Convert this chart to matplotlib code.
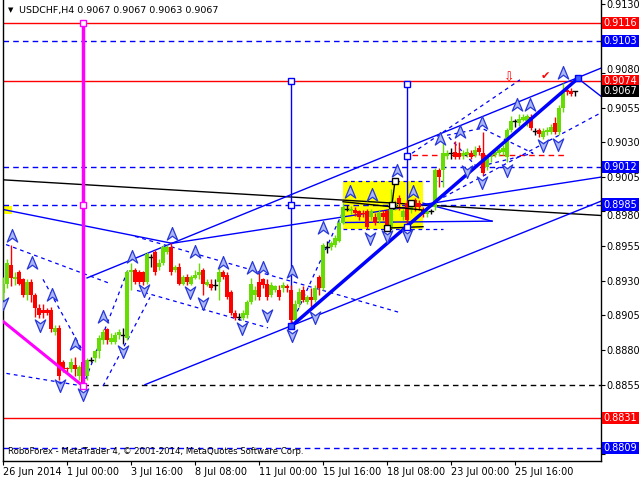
import matplotlib
matplotlib.use('Agg')
import matplotlib.pyplot as plt
from matplotlib.patches import Rectangle
from matplotlib.path import Path
from matplotlib.transforms import blended_transform_factory, ScaledTranslation
import numpy as np

# ---------------- data ----------------
opens = [0.8921,0.8928,0.8941,0.8931,0.8936,0.8931,0.8920,0.8929,0.8920,0.8910,
         0.8909,0.8909,0.8909,0.8893,0.8896,0.8871,0.8867,0.8866,0.8869,0.8861,
         0.8871,0.8861,0.8873,0.8874,0.8879,0.8887,0.8895,0.8886,0.8886,0.8891,
         0.8891,0.8889,0.8936,0.8938,0.8936,0.8936,0.8929,0.8947,0.8951,0.8940,
         0.8943,0.8951,0.8954,0.8938,0.8940,0.8928,0.8933,0.8928,0.8932,0.8934,
         0.8938,0.8927,0.8928,0.8927,0.8929,0.8936,0.8934,0.8922,0.8907,0.8904,
         0.8903,0.8905,0.8915,0.8920,0.8929,0.8931,0.8928,0.8920,0.8923,0.8923,
         0.8925,0.8926,0.8923,0.8902,0.8913,0.8923,0.8915,0.8918,0.8916,0.8933,
         0.8925,0.8954,0.8954,0.8956,0.8959,0.8972,0.8982,0.8980,0.8981,0.8980,
         0.8979,0.8980,0.8976,0.8976,0.8974,0.8979,0.8980,0.8969,0.8983,0.8990,
         0.8976,0.8986,0.8981,0.8988,0.8986,0.8981,0.8978,0.8980,0.8983,0.9010,
         0.9010,0.9020,0.9022,0.9023,0.9022,0.9020,0.9021,0.9022,0.9021,0.9026,
         0.9022,0.9012,0.9019,0.9021,0.9022,0.9023,0.9019,0.9039,0.9045,0.9044,
         0.9046,0.9045,0.9048,0.9038,0.9039,0.9034,0.9037,0.9037,0.9044,0.9037,
         0.9055,0.9068,0.9067,0.9067]
highs = [0.8933,0.8946,0.8956,0.8936,0.8938,0.8932,0.8931,0.8931,0.8921,0.8913,
         0.8913,0.8910,0.8911,0.8898,0.8898,0.8873,0.8868,0.8874,0.8875,0.8869,
         0.8873,0.8874,0.8875,0.8880,0.8891,0.8895,0.8896,0.8892,0.8893,0.8895,
         0.8896,0.8938,0.8943,0.8939,0.8938,0.8937,0.8951,0.8949,0.8952,0.8946,
         0.8956,0.8956,0.8957,0.8941,0.8943,0.8934,0.8935,0.8934,0.8938,0.8943,
         0.8939,0.8931,0.8931,0.8931,0.8939,0.8938,0.8936,0.8923,0.8909,0.8907,
         0.8909,0.8916,0.8932,0.8926,0.8938,0.8932,0.8931,0.8929,0.8927,0.8927,
         0.8929,0.8928,0.8927,0.8916,0.8925,0.8926,0.8920,0.8925,0.8927,0.8934,
         0.8957,0.8959,0.8959,0.8963,0.8974,0.8986,0.8985,0.8984,0.8983,0.8981,
         0.8981,0.8982,0.8982,0.8979,0.8981,0.8981,0.8982,0.8996,0.8988,0.8992,
         0.8982,0.8988,0.8985,0.8990,0.8988,0.8983,0.8982,0.8982,0.9011,0.9011,
         0.9031,0.9024,0.9026,0.9031,0.9030,0.9024,0.9026,0.9024,0.9027,0.9028,
         0.9037,0.9021,0.9023,0.9024,0.9026,0.9028,0.9040,0.9049,0.9047,0.9050,
         0.9050,0.9050,0.9050,0.9040,0.9040,0.9040,0.9041,0.9043,0.9048,0.9057,
         0.9073,0.9070,0.9069,0.9067]
lows = [0.8916,0.8925,0.8926,0.8927,0.8927,0.8918,0.8916,0.8915,0.8904,0.8903,
        0.8903,0.8905,0.8893,0.8891,0.8858,0.8864,0.8864,0.8864,0.8861,0.8858,
        0.8853,0.8858,0.8871,0.8871,0.8874,0.8884,0.8884,0.8884,0.8884,0.8888,
        0.8884,0.8887,0.8923,0.8928,0.8928,0.8927,0.8928,0.8940,0.8934,0.8938,
        0.8941,0.8949,0.8934,0.8936,0.8927,0.8927,0.8927,0.8927,0.8931,0.8931,
        0.8920,0.8926,0.8923,0.8923,0.8916,0.8931,0.8917,0.8905,0.8902,0.8902,
        0.8902,0.8903,0.8913,0.8916,0.8916,0.8925,0.8916,0.8918,0.8922,0.8916,
        0.8922,0.8922,0.8898,0.8900,0.8911,0.8915,0.8913,0.8911,0.8915,0.8920,
        0.8923,0.8950,0.8952,0.8954,0.8958,0.8971,0.8980,0.8978,0.8977,0.8974,
        0.8976,0.8967,0.8974,0.8970,0.8972,0.8974,0.8967,0.8968,0.8981,0.8981,
        0.8974,0.8972,0.8979,0.8980,0.8981,0.8976,0.8976,0.8978,0.8981,0.8998,
        0.8998,0.9018,0.9018,0.9018,0.9018,0.9018,0.9019,0.9018,0.9019,0.9021,
        0.9006,0.9010,0.9016,0.9019,0.9020,0.9021,0.9016,0.9037,0.9041,0.9042,
        0.9045,0.9042,0.9039,0.9035,0.9034,0.9032,0.9035,0.9036,0.9036,0.9035,
        0.9052,0.9064,0.9063,0.9063]
closes = [0.8928,0.8943,0.8932,0.8933,0.8928,0.8920,0.8929,0.8920,0.8910,0.8905,
          0.8907,0.8907,0.8895,0.8896,0.8861,0.8866,0.8866,0.8871,0.8866,0.8868,
          0.8855,0.8873,0.8873,0.8879,0.8889,0.8893,0.8887,0.8889,0.8891,0.8893,
          0.8891,0.8936,0.8938,0.8929,0.8929,0.8929,0.8949,0.8947,0.8936,0.8943,
          0.8954,0.8954,0.8936,0.8940,0.8928,0.8933,0.8929,0.8933,0.8934,0.8936,
          0.8928,0.8929,0.8925,0.8927,0.8936,0.8933,0.8918,0.8907,0.8903,0.8904,
          0.8907,0.8915,0.8928,0.8923,0.8918,0.8927,0.8918,0.8927,0.8926,0.8918,
          0.8927,0.8925,0.8902,0.8913,0.8922,0.8916,0.8918,0.8916,0.8925,0.8925,
          0.8956,0.8954,0.8957,0.8961,0.8972,0.8983,0.8982,0.8982,0.8979,0.8976,
          0.8978,0.8969,0.8980,0.8972,0.8979,0.8976,0.8968,0.8986,0.8986,0.8986,
          0.8980,0.8974,0.8983,0.8983,0.8983,0.8978,0.8980,0.8980,0.9010,0.9005,
          0.9022,0.9022,0.9022,0.9019,0.9019,0.9022,0.9023,0.9019,0.9024,0.9023,
          0.9008,0.9019,0.9021,0.9023,0.9024,0.9026,0.9039,0.9045,0.9045,0.9047,
          0.9048,0.9049,0.9040,0.9038,0.9036,0.9038,0.9039,0.9041,0.9037,0.9055,
          0.9066,0.9066,0.9065,0.9067]

date_ticks = [0, 16, 32, 48, 64, 80, 96, 112, 128]
date_labels = ['26 Jun 2014', '1 Jul 00:00', '3 Jul 16:00', '8 Jul 08:00', '11 Jul 00:00',
               '15 Jul 16:00', '18 Jul 08:00', '23 Jul 00:00', '25 Jul 16:00']
# grid ticks every 0.0025; labels hidden behind price tags are left blank
price_ticks = [0.8805, 0.8830, 0.8855, 0.8880, 0.8905, 0.8930, 0.8955, 0.8980,
               0.9005, 0.9030, 0.9055, 0.9080, 0.9105, 0.9130]
price_labels = ['', '', '0.8855', '0.8880', '0.8905', '0.8930', '0.8955', '0.8980',
                '0.9005', '0.9030', '0.9055', '0.9080', '', '0.9130']

red_levels = [0.9116, 0.9074, 0.8831]
blue_levels = [0.9103, 0.9012, 0.8985, 0.8809]
tags = [(0.9116, '#ff0000'), (0.9103, '#0000ff'), (0.9074, '#ff0000'), (0.9067, '#000000'),
        (0.9012, '#0000ff'), (0.8985, '#0000ff'), (0.8831, '#ff0000'), (0.8809, '#0000ff')]

# analysis objects (bar index, price)
thin_blue_lines = [[(-1, 0.8982), (42.25, 0.8957)],
                   [(42.25, 0.8957), (150, 0.9005)],
                   [(21, 0.8932), (150, 0.9084)],
                   [(35.5, 0.8855), (150, 0.8988)],
                   [(105, 0.8986), (122.25, 0.8973)],
                   [(85, 0.8972), (122.25, 0.8973)],
                   [(143.75, 0.9076), (150, 0.9062)]]
thick_blue_line = [(72, 0.8897), (143.75, 0.9076)]
dashed_blue_lines = [[(-1, 0.8958), (26.75, 0.8928)],
                     [(-1, 0.8864), (20, 0.8854)],
                     [(10, 0.8931), (20, 0.8879)],
                     [(20, 0.8854), (31.25, 0.8938)],
                     [(25, 0.8854), (36.75, 0.8918)],
                     [(33, 0.8962), (99.25, 0.8907)],
                     [(33.5, 0.8923), (66.25, 0.8896)],
                     [(72, 0.8898), (85, 0.8980)],
                     [(85, 0.9002), (110, 0.9002)],
                     [(85, 0.8967), (110, 0.8967)],
                     [(102.25, 0.9022), (129.25, 0.9075)],
                     [(106.75, 0.8985), (150, 0.9052)],
                     [(111, 0.9035), (119.75, 0.9040), (132.5, 0.9022), (118.5, 0.9012), (111, 0.9035)]]
black_line = [(-1, 0.9003), (150, 0.8977)]
black_segments = [[(98, 0.9002), (97.25, 0.8985)],
                  [(85, 0.8987), (105, 0.8981)],
                  [(96, 0.8968), (105, 0.8969)]]
black_dashed_level = [(20, 0.8855), (150, 0.8855)]
red_dashed_line = [(102.25, 0.9021), (140.25, 0.9021)]
magenta_vertical = [(20, 0.9116), (20, 0.8854)]
magenta_diag = [(-1, 0.8903), (20, 0.8854)]
yellow_box = [(85, 0.8967), (105, 0.9002)]
yellow_stub = [(-0.2, 0.8978), (2.2, 0.8984)]
blue_verticals = [[(72, 0.9074), (72, 0.8897)], [(101, 0.9072), (101, 0.8969)]]
square_points_blue = [(72, 0.9074), (72, 0.8985), (101, 0.9072), (101, 0.9020), (101, 0.8969)]
square_points_black = [(98, 0.9002), (97.25, 0.8985), (102, 0.8986), (96, 0.8968)]
square_points_magenta = [(20, 0.9116), (20, 0.8985), (20, 0.8854)]
filled_squares = [(72, 0.8897), (143.75, 0.9076)]

up_fractals = [(2.25, 0.8962), (7.25, 0.8943), (12.25, 0.8920), (18, 0.8884), (25, 0.8904),
               (32.25, 0.8947), (42.25, 0.8964), (48, 0.8951), (55, 0.8943), (62.25, 0.8939),
               (65, 0.8939), (72.25, 0.8936), (80, 0.8968), (86.75, 0.8994), (92.25, 0.8992),
               (98.5, 0.9009), (102.5, 0.8994), (109.25, 0.9032), (114.25, 0.9037),
               (119.75, 0.9044), (128.5, 0.9057), (131.75, 0.9057), (140, 0.9080)]
down_fractals = [(0, 0.8914), (9.25, 0.8898), (14.25, 0.8855), (20, 0.8848), (30, 0.8879),
                 (35.25, 0.8923), (46.75, 0.8922), (50, 0.8914), (59.75, 0.8896), (66, 0.8905),
                 (72.25, 0.8891), (78, 0.8904), (91.75, 0.8961), (96, 0.8962), (101, 0.8963),
                 (116, 0.9009), (119.75, 0.9001), (126, 0.9010), (135, 0.9028), (138.75, 0.9029)]

# ---------------- figure ----------------
fig = plt.figure(figsize=(6.4, 4.8), dpi=100)
ax = fig.add_axes([2.5/640, 19/480, 598/640, 461/480])
ax.set_xlim(-0.125, 149.375)
ax.set_ylim(0.87999, 0.91326)
ax.set_facecolor('white')

# yellow boxes
for (bx0, by0), (bx1, by1) in [yellow_box, yellow_stub]:
    ax.add_patch(Rectangle((bx0, by0), bx1 - bx0, by1 - by0, facecolor='#ffff00',
                           edgecolor='none', zorder=1))

# horizontal levels
for lv in red_levels:
    ax.axhline(lv, color='#ff0000', lw=1, zorder=2)
for lv in blue_levels:
    ax.axhline(lv, color='#0000ff', lw=1, ls=(0, (4, 3)), zorder=2)
ax.plot(*zip(*black_dashed_level), color='black', lw=1, ls=(0, (4, 3)), zorder=2)
ax.plot(*zip(*red_dashed_line), color='#ff0000', lw=1, ls=(0, (4, 3)), zorder=2)

# lines
ax.plot(*zip(*black_line), color='black', lw=1, zorder=2)
for seg in black_segments:
    ax.plot(*zip(*seg), color='black', lw=1, zorder=4)
for seg in thin_blue_lines:
    ax.plot(*zip(*seg), color='#0000ff', lw=1, zorder=2)
for seg in dashed_blue_lines:
    ax.plot(*zip(*seg), color='#0000ff', lw=0.9, ls=(0, (3, 3)), zorder=2)
for seg in blue_verticals:
    ax.plot(*zip(*seg), color='#0000ff', lw=1, zorder=2)

# candles
for i in range(len(opens)):
    o, h, l, c = opens[i], highs[i], lows[i], closes[i]
    if c > o:
        col = '#66dd00'
    elif c < o:
        col = '#ff0000'
    else:
        col = 'black'
    ax.plot([i, i], [l, h], color=col, lw=1, zorder=3, solid_capstyle='butt')
    if col == 'black':
        ax.plot([i - 0.4, i + 0.4], [o, o], color='black', lw=1, zorder=3)
    else:
        lo, hi = min(o, c), max(o, c)
        ax.add_patch(Rectangle((i - 0.4, lo), 0.8, max(hi - lo, 0.00005),
                               facecolor=col, edgecolor='none', zorder=3))

ax.plot(*zip(*thick_blue_line), color='#0000ff', lw=2.5, zorder=4)
ax.plot(*zip(*magenta_vertical), color='#ff00ff', lw=2.5, zorder=4)
ax.plot(*zip(*magenta_diag), color='#ff00ff', lw=2.2, zorder=4)

# anchor squares
for pts, col in [(square_points_blue, '#0000ff'), (square_points_black, 'black'),
                 (square_points_magenta, '#ff00ff')]:
    xs, ys = zip(*pts)
    ax.plot(xs, ys, ls='none', marker='s', ms=4, mfc='white', mec=col, mew=1, zorder=6)
xs, ys = zip(*filled_squares)
ax.plot(xs, ys, ls='none', marker='s', ms=5, mfc='#4060ff', mec='#0000ff', mew=1, zorder=6)

# fractal arrows
up_path = Path([(0, 1), (0.75, -0.8), (0, -0.25), (-0.75, -0.8), (0, 1)],
               [Path.MOVETO, Path.LINETO, Path.LINETO, Path.LINETO, Path.CLOSEPOLY])
down_path = Path([(0, -1), (0.75, 0.8), (0, 0.25), (-0.75, 0.8), (0, -1)],
                 [Path.MOVETO, Path.LINETO, Path.LINETO, Path.LINETO, Path.CLOSEPOLY])
xs, ys = zip(*up_fractals)
ax.plot(xs, ys, ls='none', marker=up_path, ms=10, mfc='#aab6f6', mec='#2838d8', mew=0.9, zorder=7)
xs, ys = zip(*down_fractals)
ax.plot(xs, ys, ls='none', marker=down_path, ms=10, mfc='#aab6f6', mec='#2838d8', mew=0.9, zorder=7)

# red symbols
ax.text(126.5, 0.9076, '\u21e9', color='#ff0000', fontsize=9, ha='center', va='center', zorder=8)
ax.text(135.5, 0.9078, '\u2714', color='#ff0000', fontsize=8, ha='center', va='center', zorder=8)

# axes styling
ax.spines['top'].set_visible(False)
for s in ['left', 'bottom', 'right']:
    ax.spines[s].set_color('black')
    ax.spines[s].set_linewidth(1)
ax.yaxis.tick_right()
ax.set_yticks(price_ticks)
ax.set_yticklabels(price_labels)
ax.tick_params(axis='y', length=3, pad=1.5, labelsize=7, colors='black')
ax.set_xticks(date_ticks)
ax.set_xticklabels(date_labels)
ax.tick_params(axis='x', length=3, pad=1.5, labelsize=7, colors='black')
for lab in ax.get_xticklabels():
    lab.set_ha('left')
# labels squeezed next to a price tag sit just clear of it
for lab in ax.get_yticklabels():
    if lab.get_text() == '0.9080':
        lab.set_transform(lab.get_transform() + ScaledTranslation(0, 2.5/72, fig.dpi_scale_trans))
    elif lab.get_text() == '0.8980':
        lab.set_transform(lab.get_transform() + ScaledTranslation(0, -2.5/72, fig.dpi_scale_trans))

# price tags
tr = blended_transform_factory(fig.transFigure, ax.transData)
for price, bg in tags:
    ax.add_patch(Rectangle((602/640, price - 0.00044), 37/640, 0.00088, transform=tr,
                           facecolor=bg, edgecolor='none', clip_on=False, zorder=10))
    ax.text(620.5/640, price, '%.4f' % price, transform=tr, color='white', fontsize=7,
            ha='center', va='center', clip_on=False, zorder=11)

# texts
fig.text(8/640, 1 - 10/480, '\u25bc', fontsize=5, va='center', ha='left')
fig.text(19/640, 1 - 10/480, 'USDCHF,H4 0.9067 0.9067 0.9063 0.9067', fontsize=6.8,
         va='center', ha='left')
fig.text(8/640, 1 - 452/480, 'RoboForex - MetaTrader 4, \u00a9 2001-2014, MetaQuotes Software Corp.',
         fontsize=6.1, va='center', ha='left')

fig.savefig('out.png', dpi=100, facecolor='white')
